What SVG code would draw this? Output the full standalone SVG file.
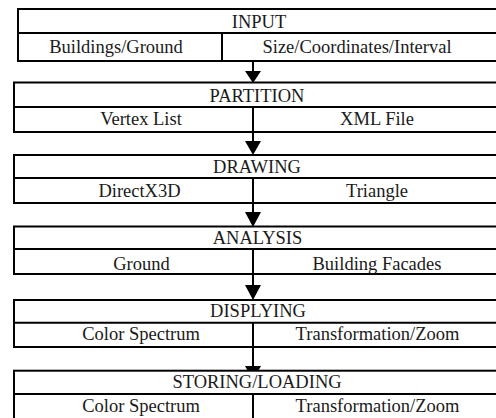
<svg xmlns="http://www.w3.org/2000/svg" width="496" height="418" viewBox="0 0 496 418">
<style>
.box{fill:#fff;stroke:#000;stroke-width:2}
.ln{stroke:#000;stroke-width:2;fill:none}
.t{font-size:18.5px;fill:#1a1a1a;text-anchor:middle}
.ah{fill:#000}
</style>
<rect width="496" height="418" fill="#fff"/>
<g id="connectors">
<line class="ln" x1="253" y1="61" x2="253" y2="72"/>
<polygon class="ah" points="245,71 261,71 253,83"/>
<line class="ln" x1="253" y1="132" x2="253" y2="142"/>
<polygon class="ah" points="245,141 261,141 253,155"/>
<line class="ln" x1="253" y1="203" x2="253" y2="213"/>
<polygon class="ah" points="245,212 261,212 253,227"/>
<line class="ln" x1="253" y1="274" x2="253" y2="286"/>
<polygon class="ah" points="245,285 261,285 253,300"/>
<line class="ln" x1="253" y1="347" x2="253" y2="367"/>
<polygon class="ah" points="245,366 261,366 253,380"/>
</g>
<g font-family="'Liberation Serif', 'Times New Roman', 'DejaVu Serif', serif">
<g id="input">
<rect class="box" x="18" y="9" width="486" height="52"/>
<line class="ln" x1="18" y1="33" x2="504" y2="33"/>
<line class="ln" x1="222" y1="33" x2="222" y2="61"/>
<text class="t" x="259" y="27.5">INPUT</text>
<text class="t" x="116" y="52.5">Buildings/Ground</text>
<text class="t" x="357" y="52.5">Size/Coordinates/Interval</text>
</g>
<g id="partition">
<rect class="box" x="14" y="82.5" width="490" height="49.5"/>
<line class="ln" x1="14" y1="107" x2="504" y2="107"/>
<line class="ln" x1="253" y1="107" x2="253" y2="132"/>
<text class="t" x="257" y="101.5">PARTITION</text>
<text class="t" x="141" y="125">Vertex List</text>
<text class="t" x="377" y="125">XML File</text>
</g>
<g id="drawing">
<rect class="box" x="14" y="155" width="490" height="48"/>
<line class="ln" x1="14" y1="178" x2="504" y2="178"/>
<line class="ln" x1="253" y1="178" x2="253" y2="203"/>
<text class="t" x="257" y="173">DRAWING</text>
<text class="t" x="139.5" y="196.5">DirectX3D</text>
<text class="t" x="377" y="196.5">Triangle</text>
</g>
<g id="analysis">
<rect class="box" x="14" y="226.5" width="490" height="47.5"/>
<line class="ln" x1="14" y1="249" x2="504" y2="249"/>
<line class="ln" x1="253" y1="249" x2="253" y2="274"/>
<text class="t" x="257.5" y="243.5">ANALYSIS</text>
<text class="t" x="141.5" y="269.5">Ground</text>
<text class="t" x="377" y="269.5">Building Facades</text>
</g>
<g id="displying">
<rect class="box" x="14" y="300" width="490" height="47"/>
<line class="ln" x1="14" y1="322.7" x2="504" y2="322.7"/>
<line class="ln" x1="253" y1="322.7" x2="253" y2="347"/>
<text class="t" x="258" y="316.5">DISPLYING</text>
<text class="t" x="141" y="340">Color Spectrum</text>
<text class="t" x="377.5" y="340">Transformation/Zoom</text>
</g>
<g id="storing">
<rect class="box" x="14" y="370.7" width="490" height="50"/>
<line class="ln" x1="14" y1="394" x2="504" y2="394"/>
<line class="ln" x1="253" y1="394" x2="253" y2="420"/>
<text class="t" x="257" y="388">STORING/LOADING</text>
<text class="t" x="141" y="412">Color Spectrum</text>
<text class="t" x="377.5" y="412">Transformation/Zoom</text>
</g>
</g>
</svg>
